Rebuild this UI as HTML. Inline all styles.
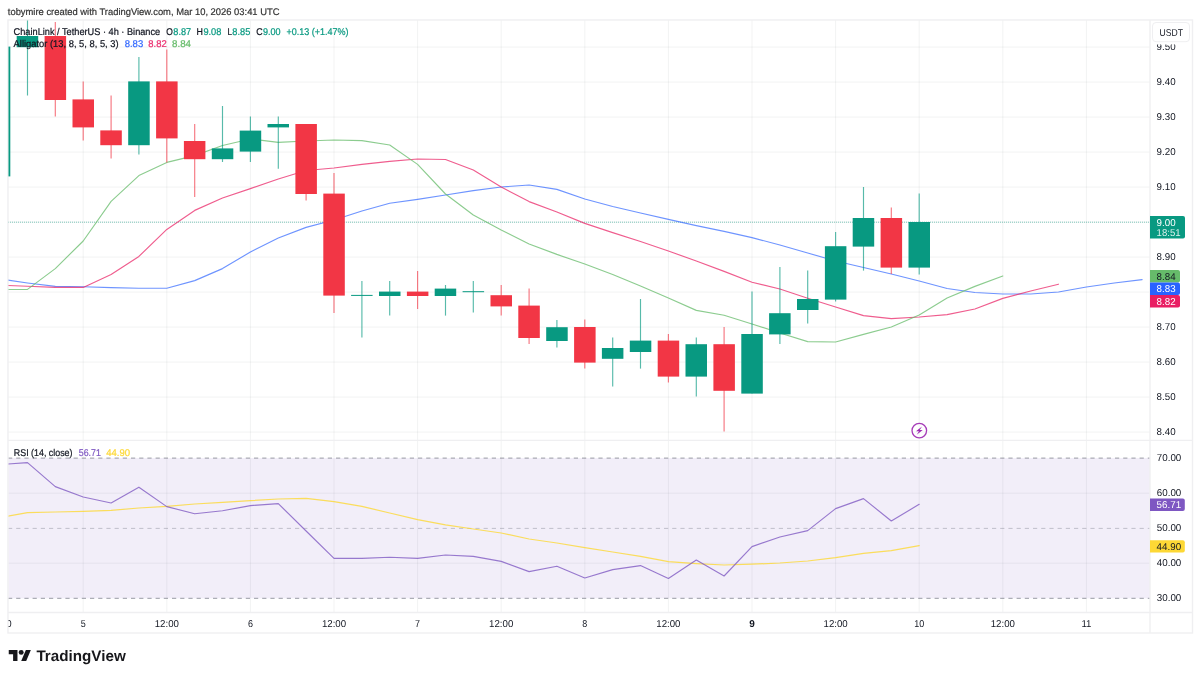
<!DOCTYPE html>
<html lang="en"><head><meta charset="utf-8"><title>LINKUSDT chart</title>
<style>html,body{margin:0;padding:0;background:#fff}body{width:1200px;height:678px;overflow:hidden;position:relative}svg{display:block;position:absolute;left:0;top:0}text{font-family:'Liberation Sans', Arial, Helvetica, sans-serif;text-rendering:geometricPrecision}</style>
</head><body>
<svg width="1200" height="678" viewBox="0 0 1200 678">
<defs><clipPath id="pane"><rect x="8.5" y="20.5" width="1141.5" height="592.5"/></clipPath>
<clipPath id="axclip"><rect x="1150.0" y="44.4" width="42" height="569"/></clipPath></defs>
<rect x="0" y="0" width="1200" height="678" fill="#ffffff"/>
<rect x="8.5" y="458" width="1141.5" height="140.3" fill="#7E57C2" fill-opacity="0.1"/>
<line x1="83.2" y1="20.0" x2="83.2" y2="612.5" stroke="#2a2e39" stroke-opacity="0.06" stroke-width="1"/>
<line x1="166.8" y1="20.0" x2="166.8" y2="612.5" stroke="#2a2e39" stroke-opacity="0.06" stroke-width="1"/>
<line x1="250.4" y1="20.0" x2="250.4" y2="612.5" stroke="#2a2e39" stroke-opacity="0.06" stroke-width="1"/>
<line x1="334.0" y1="20.0" x2="334.0" y2="612.5" stroke="#2a2e39" stroke-opacity="0.06" stroke-width="1"/>
<line x1="417.6" y1="20.0" x2="417.6" y2="612.5" stroke="#2a2e39" stroke-opacity="0.06" stroke-width="1"/>
<line x1="501.2" y1="20.0" x2="501.2" y2="612.5" stroke="#2a2e39" stroke-opacity="0.06" stroke-width="1"/>
<line x1="584.8" y1="20.0" x2="584.8" y2="612.5" stroke="#2a2e39" stroke-opacity="0.06" stroke-width="1"/>
<line x1="668.4" y1="20.0" x2="668.4" y2="612.5" stroke="#2a2e39" stroke-opacity="0.06" stroke-width="1"/>
<line x1="752.0" y1="20.0" x2="752.0" y2="612.5" stroke="#2a2e39" stroke-opacity="0.06" stroke-width="1"/>
<line x1="835.6" y1="20.0" x2="835.6" y2="612.5" stroke="#2a2e39" stroke-opacity="0.06" stroke-width="1"/>
<line x1="919.2" y1="20.0" x2="919.2" y2="612.5" stroke="#2a2e39" stroke-opacity="0.06" stroke-width="1"/>
<line x1="1002.8" y1="20.0" x2="1002.8" y2="612.5" stroke="#2a2e39" stroke-opacity="0.06" stroke-width="1"/>
<line x1="1086.4" y1="20.0" x2="1086.4" y2="612.5" stroke="#2a2e39" stroke-opacity="0.06" stroke-width="1"/>
<line x1="8.0" y1="47.1" x2="1150.0" y2="47.1" stroke="#2a2e39" stroke-opacity="0.06" stroke-width="1"/>
<line x1="8.0" y1="82.1" x2="1150.0" y2="82.1" stroke="#2a2e39" stroke-opacity="0.06" stroke-width="1"/>
<line x1="8.0" y1="117.1" x2="1150.0" y2="117.1" stroke="#2a2e39" stroke-opacity="0.06" stroke-width="1"/>
<line x1="8.0" y1="152.1" x2="1150.0" y2="152.1" stroke="#2a2e39" stroke-opacity="0.06" stroke-width="1"/>
<line x1="8.0" y1="187.1" x2="1150.0" y2="187.1" stroke="#2a2e39" stroke-opacity="0.06" stroke-width="1"/>
<line x1="8.0" y1="222.1" x2="1150.0" y2="222.1" stroke="#2a2e39" stroke-opacity="0.06" stroke-width="1"/>
<line x1="8.0" y1="257.1" x2="1150.0" y2="257.1" stroke="#2a2e39" stroke-opacity="0.06" stroke-width="1"/>
<line x1="8.0" y1="292.1" x2="1150.0" y2="292.1" stroke="#2a2e39" stroke-opacity="0.06" stroke-width="1"/>
<line x1="8.0" y1="327.1" x2="1150.0" y2="327.1" stroke="#2a2e39" stroke-opacity="0.06" stroke-width="1"/>
<line x1="8.0" y1="362.1" x2="1150.0" y2="362.1" stroke="#2a2e39" stroke-opacity="0.06" stroke-width="1"/>
<line x1="8.0" y1="397.1" x2="1150.0" y2="397.1" stroke="#2a2e39" stroke-opacity="0.06" stroke-width="1"/>
<line x1="8.0" y1="432.1" x2="1150.0" y2="432.1" stroke="#2a2e39" stroke-opacity="0.06" stroke-width="1"/>
<line x1="8.0" y1="493.2" x2="1150.0" y2="493.2" stroke="#2a2e39" stroke-opacity="0.06" stroke-width="1"/>
<line x1="8.0" y1="563.2" x2="1150.0" y2="563.2" stroke="#2a2e39" stroke-opacity="0.06" stroke-width="1"/>
<line x1="8.0" y1="458.1" x2="1150.0" y2="458.1" stroke="#787b86" stroke-opacity="0.6" stroke-width="1.2" stroke-dasharray="4.2 4"/>
<line x1="8.0" y1="528.4" x2="1150.0" y2="528.4" stroke="#787b86" stroke-opacity="0.5" stroke-width="0.8" stroke-dasharray="4.2 4"/>
<line x1="8.0" y1="598.3" x2="1150.0" y2="598.3" stroke="#787b86" stroke-opacity="0.6" stroke-width="1.2" stroke-dasharray="4.2 4"/>
<g stroke="#efeff1" stroke-width="1.4" fill="none">
<rect x="8.0" y="20.0" width="1184.5" height="613.0"/>
<line x1="1150.0" y1="20.0" x2="1150.0" y2="633.0"/>
<line x1="8.0" y1="440.4" x2="1192.5" y2="440.4"/>
<line x1="8.0" y1="612.5" x2="1192.5" y2="612.5"/>
</g>
<g clip-path="url(#pane)">
<line x1="8.0" y1="222.2" x2="1150.0" y2="222.2" stroke="#089981" stroke-width="0.85" stroke-dasharray="1 1" stroke-opacity="0.6"/>
<polyline points="-0.4,279.0 27.5,283.0 55.3,286.4 83.2,286.8 111.1,287.6 138.9,288.2 166.8,288.2 194.7,280.6 222.5,268.6 250.4,252.0 278.3,238.0 306.1,227.4 334.0,220.0 361.9,211.0 389.7,203.2 417.6,199.4 445.5,195.0 473.3,190.6 501.2,187.0 529.1,185.0 556.9,189.4 584.8,199.0 612.7,206.5 640.5,213.0 668.4,219.4 696.3,225.6 724.1,231.4 752.0,237.6 779.9,245.0 807.7,253.0 835.6,261.0 863.5,267.5 891.3,274.0 919.2,281.0 947.1,288.5 974.9,292.5 1002.8,294.0 1030.7,294.0 1058.5,292.0 1086.4,287.0 1114.3,283.0 1142.1,279.6" fill="none" stroke="#2962FF" stroke-width="1.15" stroke-linejoin="round" stroke-linecap="round" opacity="0.68"/>
<polyline points="-0.4,285.2 27.5,286.2 55.3,287.4 83.2,287.4 111.1,274.6 138.9,256.4 166.8,229.4 194.7,210.4 222.5,198.0 250.4,188.6 278.3,179.0 306.1,170.5 334.0,168.0 361.9,164.4 389.7,161.4 417.6,159.0 445.5,159.5 473.3,170.0 501.2,187.0 529.1,201.6 556.9,212.0 584.8,223.4 612.7,232.6 640.5,241.5 668.4,251.0 696.3,261.0 724.1,271.4 752.0,282.2 779.9,289.0 807.7,298.2 835.6,307.0 863.5,315.6 891.3,318.6 919.2,317.0 947.1,314.6 974.9,309.0 1002.8,298.4 1030.7,291.0 1058.5,284.2" fill="none" stroke="#E91E63" stroke-width="1.15" stroke-linejoin="round" stroke-linecap="round" opacity="0.72"/>
<polyline points="-0.4,289.6 27.5,289.4 55.3,268.6 83.2,241.0 111.1,201.4 138.9,175.6 166.8,162.4 194.7,155.6 222.5,145.5 250.4,139.0 278.3,142.4 306.1,141.0 334.0,140.0 361.9,140.6 389.7,145.0 417.6,164.4 445.5,194.0 473.3,215.0 501.2,230.0 529.1,244.0 556.9,254.4 584.8,264.0 612.7,274.5 640.5,286.0 668.4,298.0 696.3,310.4 724.1,315.2 752.0,324.0 779.9,333.0 807.7,341.6 835.6,342.0 863.5,334.4 891.3,327.0 919.2,315.0 947.1,298.0 974.9,286.4 1002.8,276.0" fill="none" stroke="#66BB6A" stroke-width="1.15" stroke-linejoin="round" stroke-linecap="round" opacity="0.75"/>
<line x1="-0.4" y1="46.6" x2="-0.4" y2="176.4" stroke="#089981" stroke-width="1.15" stroke-opacity="0.68"/>
<rect x="-11.2" y="46.6" width="21.5" height="129.8" fill="#089981"/>
<line x1="27.5" y1="20.0" x2="27.5" y2="95.6" stroke="#089981" stroke-width="1.15" stroke-opacity="0.68"/>
<rect x="16.7" y="36.0" width="21.5" height="11.2" fill="#089981"/>
<line x1="55.3" y1="22.0" x2="55.3" y2="116.4" stroke="#F23645" stroke-width="1.15" stroke-opacity="0.68"/>
<rect x="44.6" y="36.0" width="21.5" height="64.0" fill="#F23645"/>
<line x1="83.2" y1="81.4" x2="83.2" y2="140.6" stroke="#F23645" stroke-width="1.15" stroke-opacity="0.68"/>
<rect x="72.5" y="99.4" width="21.5" height="28.0" fill="#F23645"/>
<line x1="111.1" y1="95.6" x2="111.1" y2="158.4" stroke="#F23645" stroke-width="1.15" stroke-opacity="0.68"/>
<rect x="100.3" y="130.4" width="21.5" height="14.8" fill="#F23645"/>
<line x1="138.9" y1="57.0" x2="138.9" y2="154.4" stroke="#089981" stroke-width="1.15" stroke-opacity="0.68"/>
<rect x="128.2" y="81.4" width="21.5" height="63.8" fill="#089981"/>
<line x1="166.8" y1="49.4" x2="166.8" y2="162.4" stroke="#F23645" stroke-width="1.15" stroke-opacity="0.68"/>
<rect x="156.1" y="81.4" width="21.5" height="57.0" fill="#F23645"/>
<line x1="194.7" y1="124.0" x2="194.7" y2="197.0" stroke="#F23645" stroke-width="1.15" stroke-opacity="0.68"/>
<rect x="183.9" y="141.0" width="21.5" height="18.2" fill="#F23645"/>
<line x1="222.5" y1="106.0" x2="222.5" y2="162.0" stroke="#089981" stroke-width="1.15" stroke-opacity="0.68"/>
<rect x="211.8" y="148.4" width="21.5" height="10.8" fill="#089981"/>
<line x1="250.4" y1="116.4" x2="250.4" y2="162.0" stroke="#089981" stroke-width="1.15" stroke-opacity="0.68"/>
<rect x="239.7" y="130.6" width="21.5" height="21.0" fill="#089981"/>
<line x1="278.3" y1="116.4" x2="278.3" y2="168.8" stroke="#089981" stroke-width="1.15" stroke-opacity="0.68"/>
<rect x="267.5" y="124.0" width="21.5" height="3.4" fill="#089981"/>
<line x1="306.1" y1="124.0" x2="306.1" y2="200.6" stroke="#F23645" stroke-width="1.15" stroke-opacity="0.68"/>
<rect x="295.4" y="124.0" width="21.5" height="70.0" fill="#F23645"/>
<line x1="334.0" y1="173.0" x2="334.0" y2="313.0" stroke="#F23645" stroke-width="1.15" stroke-opacity="0.68"/>
<rect x="323.3" y="193.6" width="21.5" height="102.0" fill="#F23645"/>
<line x1="361.9" y1="281.0" x2="361.9" y2="337.4" stroke="#089981" stroke-width="1.15" stroke-opacity="0.68"/>
<rect x="351.1" y="294.9" width="21.5" height="1.0" fill="#089981"/>
<line x1="389.7" y1="281.0" x2="389.7" y2="315.6" stroke="#089981" stroke-width="1.15" stroke-opacity="0.68"/>
<rect x="379.0" y="291.6" width="21.5" height="4.4" fill="#089981"/>
<line x1="417.6" y1="271.0" x2="417.6" y2="309.0" stroke="#F23645" stroke-width="1.15" stroke-opacity="0.68"/>
<rect x="406.9" y="291.6" width="21.5" height="4.4" fill="#F23645"/>
<line x1="445.5" y1="285.0" x2="445.5" y2="315.6" stroke="#089981" stroke-width="1.15" stroke-opacity="0.68"/>
<rect x="434.7" y="288.6" width="21.5" height="7.4" fill="#089981"/>
<line x1="473.3" y1="281.0" x2="473.3" y2="312.6" stroke="#089981" stroke-width="1.15" stroke-opacity="0.68"/>
<rect x="462.6" y="291.2" width="21.5" height="1.0" fill="#089981"/>
<line x1="501.2" y1="285.0" x2="501.2" y2="315.6" stroke="#F23645" stroke-width="1.15" stroke-opacity="0.68"/>
<rect x="490.5" y="295.2" width="21.5" height="11.2" fill="#F23645"/>
<line x1="529.1" y1="288.6" x2="529.1" y2="344.0" stroke="#F23645" stroke-width="1.15" stroke-opacity="0.68"/>
<rect x="518.3" y="305.6" width="21.5" height="32.4" fill="#F23645"/>
<line x1="556.9" y1="320.0" x2="556.9" y2="347.6" stroke="#089981" stroke-width="1.15" stroke-opacity="0.68"/>
<rect x="546.2" y="327.2" width="21.5" height="13.8" fill="#089981"/>
<line x1="584.8" y1="319.6" x2="584.8" y2="368.6" stroke="#F23645" stroke-width="1.15" stroke-opacity="0.68"/>
<rect x="574.1" y="327.0" width="21.5" height="35.6" fill="#F23645"/>
<line x1="612.7" y1="337.4" x2="612.7" y2="386.4" stroke="#089981" stroke-width="1.15" stroke-opacity="0.68"/>
<rect x="601.9" y="348.0" width="21.5" height="10.8" fill="#089981"/>
<line x1="640.5" y1="299.0" x2="640.5" y2="368.6" stroke="#089981" stroke-width="1.15" stroke-opacity="0.68"/>
<rect x="629.8" y="340.6" width="21.5" height="11.4" fill="#089981"/>
<line x1="668.4" y1="334.0" x2="668.4" y2="382.6" stroke="#F23645" stroke-width="1.15" stroke-opacity="0.68"/>
<rect x="657.7" y="340.6" width="21.5" height="36.0" fill="#F23645"/>
<line x1="696.3" y1="337.4" x2="696.3" y2="396.6" stroke="#089981" stroke-width="1.15" stroke-opacity="0.68"/>
<rect x="685.5" y="344.2" width="21.5" height="32.4" fill="#089981"/>
<line x1="724.1" y1="327.0" x2="724.1" y2="431.6" stroke="#F23645" stroke-width="1.15" stroke-opacity="0.68"/>
<rect x="713.4" y="344.2" width="21.5" height="46.6" fill="#F23645"/>
<line x1="752.0" y1="291.6" x2="752.0" y2="393.6" stroke="#089981" stroke-width="1.15" stroke-opacity="0.68"/>
<rect x="741.3" y="334.0" width="21.5" height="59.6" fill="#089981"/>
<line x1="779.9" y1="267.0" x2="779.9" y2="344.0" stroke="#089981" stroke-width="1.15" stroke-opacity="0.68"/>
<rect x="769.1" y="313.2" width="21.5" height="21.2" fill="#089981"/>
<line x1="807.7" y1="270.6" x2="807.7" y2="323.4" stroke="#089981" stroke-width="1.15" stroke-opacity="0.68"/>
<rect x="797.0" y="299.0" width="21.5" height="11.0" fill="#089981"/>
<line x1="835.6" y1="232.0" x2="835.6" y2="301.6" stroke="#089981" stroke-width="1.15" stroke-opacity="0.68"/>
<rect x="824.9" y="246.2" width="21.5" height="53.4" fill="#089981"/>
<line x1="863.5" y1="187.0" x2="863.5" y2="270.6" stroke="#089981" stroke-width="1.15" stroke-opacity="0.68"/>
<rect x="852.7" y="218.0" width="21.5" height="28.6" fill="#089981"/>
<line x1="891.3" y1="207.6" x2="891.3" y2="274.0" stroke="#F23645" stroke-width="1.15" stroke-opacity="0.68"/>
<rect x="880.6" y="218.0" width="21.5" height="49.6" fill="#F23645"/>
<line x1="919.2" y1="193.6" x2="919.2" y2="274.4" stroke="#089981" stroke-width="1.15" stroke-opacity="0.68"/>
<rect x="908.5" y="222.0" width="21.5" height="45.6" fill="#089981"/>
<polyline points="-0.4,517.5 27.5,512.6 55.3,512.0 83.2,511.4 111.1,510.4 138.9,508.0 166.8,506.4 194.7,504.0 222.5,502.3 250.4,500.6 278.3,499.0 306.1,498.4 334.0,501.6 361.9,506.4 389.7,513.0 417.6,519.6 445.5,524.8 473.3,529.0 501.2,533.0 529.1,539.0 556.9,543.0 584.8,547.6 612.7,552.0 640.5,556.4 668.4,561.6 696.3,563.6 724.1,565.0 752.0,564.2 779.9,563.0 807.7,561.0 835.6,557.6 863.5,553.4 891.3,550.6 919.2,545.7" fill="none" stroke="#FDD835" stroke-width="1.25" stroke-linejoin="round" stroke-linecap="round" opacity="0.8"/>
<polyline points="-0.4,464.6 27.5,462.6 55.3,486.6 83.2,497.0 111.1,503.0 138.9,487.2 166.8,506.6 194.7,513.8 222.5,510.8 250.4,505.6 278.3,503.6 306.1,531.0 334.0,558.4 361.9,558.4 389.7,557.2 417.6,558.4 445.5,555.0 473.3,556.4 501.2,561.4 529.1,571.6 556.9,566.2 584.8,578.0 612.7,569.6 640.5,565.6 668.4,578.4 696.3,560.0 724.1,576.0 752.0,546.6 779.9,537.0 807.7,530.6 835.6,508.6 863.5,498.6 891.3,521.0 919.2,504.3" fill="none" stroke="#7E57C2" stroke-width="1.15" stroke-linejoin="round" stroke-linecap="round" opacity="0.78"/>
</g>
<g fill="none" stroke="#9C27B0" stroke-width="1.3" stroke-opacity="0.9"><circle cx="919.3" cy="430.6" r="7.3"/></g>
<path d="M922.0 426.6 L916.0 431.3 L919.0 431.3 L916.7 434.7 L922.7 429.9 L919.7 429.9 Z" fill="#9C27B0"/>
<g clip-path="url(#axclip)">
<text x="1156.6" y="50.0" font-size="10.0" fill="#131722" stroke="#131722" stroke-width="0" textLength="19.0" lengthAdjust="spacingAndGlyphs" >9.50</text>
<text x="1156.6" y="85.0" font-size="10.0" fill="#131722" stroke="#131722" stroke-width="0" textLength="19.0" lengthAdjust="spacingAndGlyphs" >9.40</text>
<text x="1156.6" y="120.0" font-size="10.0" fill="#131722" stroke="#131722" stroke-width="0" textLength="19.0" lengthAdjust="spacingAndGlyphs" >9.30</text>
<text x="1156.6" y="155.0" font-size="10.0" fill="#131722" stroke="#131722" stroke-width="0" textLength="19.0" lengthAdjust="spacingAndGlyphs" >9.20</text>
<text x="1156.6" y="190.0" font-size="10.0" fill="#131722" stroke="#131722" stroke-width="0" textLength="19.0" lengthAdjust="spacingAndGlyphs" >9.10</text>
<text x="1156.6" y="225.0" font-size="10.0" fill="#131722" stroke="#131722" stroke-width="0" textLength="19.0" lengthAdjust="spacingAndGlyphs" >9.00</text>
<text x="1156.6" y="260.0" font-size="10.0" fill="#131722" stroke="#131722" stroke-width="0" textLength="19.0" lengthAdjust="spacingAndGlyphs" >8.90</text>
<text x="1156.6" y="295.0" font-size="10.0" fill="#131722" stroke="#131722" stroke-width="0" textLength="19.0" lengthAdjust="spacingAndGlyphs" >8.80</text>
<text x="1156.6" y="330.0" font-size="10.0" fill="#131722" stroke="#131722" stroke-width="0" textLength="19.0" lengthAdjust="spacingAndGlyphs" >8.70</text>
<text x="1156.6" y="365.0" font-size="10.0" fill="#131722" stroke="#131722" stroke-width="0" textLength="19.0" lengthAdjust="spacingAndGlyphs" >8.60</text>
<text x="1156.6" y="400.0" font-size="10.0" fill="#131722" stroke="#131722" stroke-width="0" textLength="19.0" lengthAdjust="spacingAndGlyphs" >8.50</text>
<text x="1156.6" y="435.0" font-size="10.0" fill="#131722" stroke="#131722" stroke-width="0" textLength="19.0" lengthAdjust="spacingAndGlyphs" >8.40</text>
<text x="1156.8" y="461.0" font-size="10.0" fill="#131722" stroke="#131722" stroke-width="0" textLength="24.5" lengthAdjust="spacingAndGlyphs" >70.00</text>
<text x="1156.8" y="496.1" font-size="10.0" fill="#131722" stroke="#131722" stroke-width="0" textLength="24.5" lengthAdjust="spacingAndGlyphs" >60.00</text>
<text x="1156.8" y="531.3" font-size="10.0" fill="#131722" stroke="#131722" stroke-width="0" textLength="24.5" lengthAdjust="spacingAndGlyphs" >50.00</text>
<text x="1156.8" y="566.1" font-size="10.0" fill="#131722" stroke="#131722" stroke-width="0" textLength="24.5" lengthAdjust="spacingAndGlyphs" >40.00</text>
<text x="1156.8" y="601.2" font-size="10.0" fill="#131722" stroke="#131722" stroke-width="0" textLength="24.5" lengthAdjust="spacingAndGlyphs" >30.00</text>
</g>
<path d="M1150 216 H1183 a2 2 0 0 1 2 2 V236.6 a2 2 0 0 1 -2 2 H1150 Z" fill="#089981"/>
<text x="1156.6" y="226.0" font-size="10.0" fill="#ffffff" stroke="#ffffff" stroke-width="0" textLength="19.0" lengthAdjust="spacingAndGlyphs" >9.00</text>
<text x="1156.6" y="235.6" font-size="10.0" fill="#ffffff" stroke="#ffffff" stroke-width="0" textLength="24.0" lengthAdjust="spacingAndGlyphs" fill-opacity="0.85">18:51</text>
<path d="M1150 270.0 H1178.0 a2 2 0 0 1 2 2 V280.5 a2 2 0 0 1 -2 2 H1150 Z" fill="#66BB6A"/>
<text x="1156.6" y="279.6" font-size="10.0" fill="#131722" stroke="#131722" stroke-width="0" textLength="19.0" lengthAdjust="spacingAndGlyphs" >8.84</text>
<path d="M1150 282.5 H1178.0 a2 2 0 0 1 2 2 V293.0 a2 2 0 0 1 -2 2 H1150 Z" fill="#2962FF"/>
<text x="1156.6" y="292.1" font-size="10.0" fill="#ffffff" stroke="#ffffff" stroke-width="0" textLength="19.0" lengthAdjust="spacingAndGlyphs" >8.83</text>
<path d="M1150 295.0 H1178.0 a2 2 0 0 1 2 2 V305.6 a2 2 0 0 1 -2 2 H1150 Z" fill="#E91E63"/>
<text x="1156.6" y="304.7" font-size="10.0" fill="#ffffff" stroke="#ffffff" stroke-width="0" textLength="19.0" lengthAdjust="spacingAndGlyphs" >8.82</text>
<path d="M1150 498.5 H1182.8 a2 2 0 0 1 2 2 V509.0 a2 2 0 0 1 -2 2 H1150 Z" fill="#7E57C2"/>
<text x="1156.6" y="508.1" font-size="10.0" fill="#ffffff" stroke="#ffffff" stroke-width="0" textLength="24.5" lengthAdjust="spacingAndGlyphs" >56.71</text>
<path d="M1150 540.3 H1182.8 a2 2 0 0 1 2 2 V550.4 a2 2 0 0 1 -2 2 H1150 Z" fill="#FDD835"/>
<text x="1156.6" y="549.7" font-size="10.0" fill="#131722" stroke="#131722" stroke-width="0" textLength="24.5" lengthAdjust="spacingAndGlyphs" >44.90</text>
<rect x="1152.5" y="22.5" width="37" height="19.2" rx="3.5" fill="#ffffff" stroke="#efeff1" stroke-width="1"/>
<text x="1159.6" y="35.8" font-size="10.0" fill="#131722" stroke="#131722" stroke-width="0" textLength="23.4" lengthAdjust="spacingAndGlyphs" >USDT</text>
<text x="83.2" y="627.2" font-size="10.0" fill="#131722" stroke="#131722" stroke-width="0" text-anchor="middle" textLength="5.0" lengthAdjust="spacingAndGlyphs" >5</text>
<text x="166.8" y="627.2" font-size="10.0" fill="#131722" stroke="#131722" stroke-width="0" text-anchor="middle" textLength="24.2" lengthAdjust="spacingAndGlyphs" >12:00</text>
<text x="250.4" y="627.2" font-size="10.0" fill="#131722" stroke="#131722" stroke-width="0" text-anchor="middle" textLength="5.0" lengthAdjust="spacingAndGlyphs" >6</text>
<text x="334.0" y="627.2" font-size="10.0" fill="#131722" stroke="#131722" stroke-width="0" text-anchor="middle" textLength="24.2" lengthAdjust="spacingAndGlyphs" >12:00</text>
<text x="417.6" y="627.2" font-size="10.0" fill="#131722" stroke="#131722" stroke-width="0" text-anchor="middle" textLength="5.0" lengthAdjust="spacingAndGlyphs" >7</text>
<text x="501.2" y="627.2" font-size="10.0" fill="#131722" stroke="#131722" stroke-width="0" text-anchor="middle" textLength="24.2" lengthAdjust="spacingAndGlyphs" >12:00</text>
<text x="584.8" y="627.2" font-size="10.0" fill="#131722" stroke="#131722" stroke-width="0" text-anchor="middle" textLength="5.0" lengthAdjust="spacingAndGlyphs" >8</text>
<text x="668.4" y="627.2" font-size="10.0" fill="#131722" stroke="#131722" stroke-width="0" text-anchor="middle" textLength="24.2" lengthAdjust="spacingAndGlyphs" >12:00</text>
<text x="752.0" y="627.2" font-size="10.0" fill="#131722" stroke="#131722" stroke-width="0" text-anchor="middle" font-weight="bold" >9</text>
<text x="835.6" y="627.2" font-size="10.0" fill="#131722" stroke="#131722" stroke-width="0" text-anchor="middle" textLength="24.2" lengthAdjust="spacingAndGlyphs" >12:00</text>
<text x="919.2" y="627.2" font-size="10.0" fill="#131722" stroke="#131722" stroke-width="0" text-anchor="middle" textLength="10.0" lengthAdjust="spacingAndGlyphs" >10</text>
<text x="1002.8" y="627.2" font-size="10.0" fill="#131722" stroke="#131722" stroke-width="0" text-anchor="middle" textLength="24.2" lengthAdjust="spacingAndGlyphs" >12:00</text>
<text x="1086.4" y="627.2" font-size="10.0" fill="#131722" stroke="#131722" stroke-width="0" text-anchor="middle" textLength="10.0" lengthAdjust="spacingAndGlyphs" >11</text>
<svg x="8.5" y="613" width="20" height="20" viewBox="8.5 613 20 20" overflow="hidden"><text x="-0.4" y="627.2" font-size="10.0" fill="#131722" stroke="#131722" stroke-width="0" text-anchor="middle" textLength="24.2" lengthAdjust="spacingAndGlyphs" >12:00</text></svg>
<text x="13.6" y="34.7" font-size="9.8" fill="#131722" stroke="#131722" stroke-width="0.22" textLength="146.6" lengthAdjust="spacingAndGlyphs" >ChainLink / TetherUS · 4h · Binance</text>
<text x="166.3" y="34.7" font-size="9.8" fill="#131722" stroke="#131722" stroke-width="0.22" textLength="6.6" lengthAdjust="spacingAndGlyphs" >O</text>
<text x="173.3" y="34.7" font-size="9.8" fill="#089981" stroke="#089981" stroke-width="0.22" textLength="17.8" lengthAdjust="spacingAndGlyphs" >8.87</text>
<text x="196.4" y="34.7" font-size="9.8" fill="#131722" stroke="#131722" stroke-width="0.22" textLength="6.4" lengthAdjust="spacingAndGlyphs" >H</text>
<text x="203.4" y="34.7" font-size="9.8" fill="#089981" stroke="#089981" stroke-width="0.22" textLength="18.0" lengthAdjust="spacingAndGlyphs" >9.08</text>
<text x="227.4" y="34.7" font-size="9.8" fill="#131722" stroke="#131722" stroke-width="0.22" textLength="4.6" lengthAdjust="spacingAndGlyphs" >L</text>
<text x="232.3" y="34.7" font-size="9.8" fill="#089981" stroke="#089981" stroke-width="0.22" textLength="18.0" lengthAdjust="spacingAndGlyphs" >8.85</text>
<text x="256.2" y="34.7" font-size="9.8" fill="#131722" stroke="#131722" stroke-width="0.22" textLength="6.4" lengthAdjust="spacingAndGlyphs" >C</text>
<text x="262.9" y="34.7" font-size="9.8" fill="#089981" stroke="#089981" stroke-width="0.22" textLength="17.6" lengthAdjust="spacingAndGlyphs" >9.00</text>
<text x="286.5" y="34.7" font-size="9.8" fill="#089981" stroke="#089981" stroke-width="0.22" textLength="62.1" lengthAdjust="spacingAndGlyphs" >+0.13 (+1.47%)</text>
<text x="13.6" y="47.2" font-size="9.8" fill="#131722" stroke="#131722" stroke-width="0.22" textLength="105.0" lengthAdjust="spacingAndGlyphs" >Alligator (13, 8, 5, 8, 5, 3)</text>
<text x="124.7" y="47.2" font-size="9.8" fill="#2962FF" stroke="#2962FF" stroke-width="0.22" textLength="18.5" lengthAdjust="spacingAndGlyphs" fill-opacity="0.9">8.83</text>
<text x="148.3" y="47.2" font-size="9.8" fill="#E91E63" stroke="#E91E63" stroke-width="0.22" textLength="18.4" lengthAdjust="spacingAndGlyphs" fill-opacity="0.9">8.82</text>
<text x="172.0" y="47.2" font-size="9.8" fill="#66BB6A" stroke="#66BB6A" stroke-width="0.22" textLength="19.0" lengthAdjust="spacingAndGlyphs" >8.84</text>
<text x="13.8" y="455.8" font-size="9.8" fill="#131722" stroke="#131722" stroke-width="0.22" textLength="58.7" lengthAdjust="spacingAndGlyphs" >RSI (14, close)</text>
<text x="78.8" y="455.8" font-size="9.8" fill="#7E57C2" stroke="#7E57C2" stroke-width="0.22" textLength="22.1" lengthAdjust="spacingAndGlyphs" >56.71</text>
<text x="106.2" y="455.8" font-size="9.8" fill="#FDD835" stroke="#FDD835" stroke-width="0.22" textLength="23.8" lengthAdjust="spacingAndGlyphs" >44.90</text>
<text x="7.8" y="14.6" font-size="9.6" fill="#333333" stroke="#333333" stroke-width="0.2" textLength="271.7" lengthAdjust="spacingAndGlyphs" >tobymire created with TradingView.com, Mar 10, 2026 03:41 UTC</text>
<g transform="translate(8.75,647.4) scale(0.6225)" fill="#17171b"><path d="M14 22H7V11H0V4h14v18zM28 22h-8l7.5-18h8L28 22z"/><circle cx="20" cy="8" r="4"/></g>
<text x="36.4" y="660.8" font-size="15.2" fill="#17171b" stroke="#17171b" stroke-width="0" textLength="89.4" lengthAdjust="spacingAndGlyphs" font-weight="bold" >TradingView</text>
</svg>
</body></html>
